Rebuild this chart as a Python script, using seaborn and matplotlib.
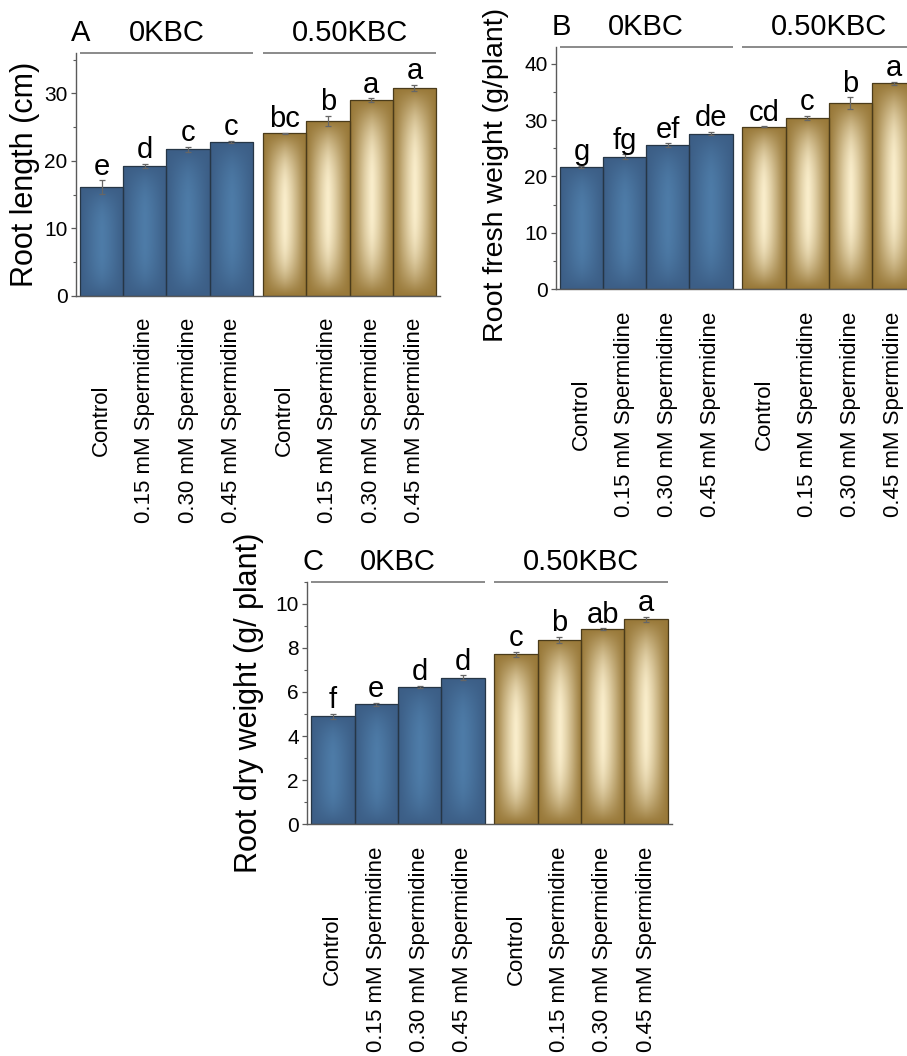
import numpy as np
import pandas as pd
import matplotlib
matplotlib.use("Agg")
import matplotlib.pyplot as plt
from matplotlib.ticker import MultipleLocator
import seaborn as sns

# ---------------- data ----------------
treatments = ["Control", "0.15 mM Spermidine", "0.30 mM Spermidine", "0.45 mM Spermidine"]
groups = ["0KBC", "0.50KBC"]

root_length = [16.1, 19.3, 21.7, 22.8, 24.1, 25.9, 29.0, 30.8]
root_length_se = [1.0, 0.3, 0.4, 0.2, 0.1, 0.8, 0.3, 0.5]
root_length_letters = ["e", "d", "c", "c", "bc", "b", "a", "a"]

fresh_weight = [21.7, 23.5, 25.6, 27.6, 28.8, 30.4, 33.0, 36.5]
fresh_weight_se = [0.15, 0.4, 0.3, 0.3, 0.1, 0.4, 1.0, 0.3]
fresh_weight_letters = ["g", "fg", "ef", "de", "cd", "c", "b", "a"]

dry_weight = [4.89, 5.44, 6.22, 6.65, 7.70, 8.35, 8.85, 9.29]
dry_weight_se = [0.12, 0.08, 0.05, 0.10, 0.12, 0.15, 0.03, 0.12]
dry_weight_letters = ["f", "e", "d", "d", "c", "b", "ab", "a"]

# ---------------- style ----------------
sns.set_theme(style="ticks")
plt.rcParams["font.family"] = ["Liberation Sans", "DejaVu Sans"]
plt.rcParams["text.color"] = "black"
plt.rcParams["axes.labelcolor"] = "black"
plt.rcParams["xtick.color"] = "black"
plt.rcParams["ytick.color"] = "black"

GAP = 0.23
DARK = {"0KBC": np.array([60, 94, 134]) / 255, "0.50KBC": np.array([152, 120, 56]) / 255}
LIGHT = {"0KBC": np.array([78, 124, 168]) / 255, "0.50KBC": np.array([250, 238, 204]) / 255}
EDGE = {"0KBC": "#263646", "0.50KBC": "#4a3b1a"}
PAL = {g: tuple(DARK[g]) for g in groups}
AXC = "#5a5a5a"


def gradient(group):
    nx, ny = 80, 240
    u = np.linspace(-1, 1, nx)
    v = np.linspace(-1, 1, ny)
    U, V = np.meshgrid(u, v)
    th = 1 - np.abs(U) ** 1.3
    tv = 1 - np.abs(V) ** 3.0
    t = np.clip(th * tv, 0, 1) ** 1.1
    d, l = DARK[group], LIGHT[group]
    return d + (l - d) * t[..., None]


def panel(fig, rect, values, errs, letters, ylabel, ylim, major, minor,
          panel_letter, ylabel_x, ylabel_size=22, ylabel_y=0.5):
    ax = fig.add_axes(rect)
    n = len(values)
    grp = [groups[i // len(treatments)] for i in range(n)]
    pos = np.arange(n) + GAP * (np.arange(n) // len(treatments))
    df = pd.DataFrame({"pos": pos, "value": values, "group": grp,
                       "treatment": treatments * len(groups)})
    sns.barplot(data=df, x="pos", y="value", hue="group", palette=PAL,
                native_scale=True, width=1.0, dodge=False, legend=False,
                errorbar=None, linewidth=0.9, edgecolor="#2a2a2a", ax=ax)

    # gradient fill inside each bar
    for p in list(ax.patches):
        bx, by = p.get_x(), p.get_y()
        bw, bh = p.get_width(), p.get_height()
        if bh <= 0:
            continue
        idx = int(np.argmin(np.abs(pos - (bx + bw / 2))))
        g = grp[idx]
        im = ax.imshow(gradient(g), extent=(bx, bx + bw, by, by + bh),
                       origin="lower", aspect="auto", interpolation="bilinear",
                       zorder=1.5)
        im.set_clip_path(p)
        p.set_facecolor("none")
        p.set_edgecolor(EDGE[g])
        p.set_zorder(2)

    ax.errorbar(pos, values, yerr=errs, fmt="none", ecolor="#666666",
                elinewidth=0.9, capsize=2.2, capthick=0.9, zorder=3)

    for x, v, e, t in zip(pos, values, errs, letters):
        ax.annotate(t, (x, v + e), xytext=(0, 4), textcoords="offset points",
                    ha="center", va="baseline", fontsize=21, color="black")

    ax.set_xlim(pos[0] - 0.5 - 0.09, pos[-1] + 0.5 + 0.09)
    ax.set_ylim(*ylim)
    ax.yaxis.set_major_locator(MultipleLocator(major))
    ax.yaxis.set_minor_locator(MultipleLocator(minor))

    ax.set_xticks(pos)
    ax.set_xticklabels(df["treatment"], rotation=90, va="center", ha="center",
                       fontsize=16, color="black")
    ax.tick_params(axis="x", length=0, pad=90)
    ax.tick_params(axis="y", which="major", length=3.6, width=0.9, color=AXC,
                   labelsize=15, labelcolor="black", pad=2.5)
    ax.tick_params(axis="y", which="minor", length=2.0, width=0.8, color=AXC)

    ax.set_xlabel("")
    ax.set_ylabel(ylabel, fontsize=ylabel_size, color="black")
    ax.yaxis.set_label_coords(ylabel_x, ylabel_y)

    for s in ["top", "right"]:
        ax.spines[s].set_visible(False)
    for s in ["left", "bottom"]:
        ax.spines[s].set_color(AXC)
        ax.spines[s].set_linewidth(1.0)

    # group brackets and labels
    top = ylim[1]
    for gi, g in enumerate(groups):
        gpos = pos[gi * len(treatments):(gi + 1) * len(treatments)]
        x0, x1 = gpos[0] - 0.5, gpos[-1] + 0.5
        ax.plot([x0, x1], [top, top], color="#777777", lw=1.2, clip_on=False,
                solid_capstyle="butt")
        ax.annotate(g, ((x0 + x1) / 2, top), xytext=(0, 8.5),
                    textcoords="offset points", ha="center", va="baseline",
                    fontsize=21, color="black", annotation_clip=False)
    ax.annotate(panel_letter, (0, 1), xycoords="axes fraction",
                xytext=(-3.5, 8.5), textcoords="offset points", ha="left",
                va="baseline", fontsize=21, color="black")
    return ax


W, H = 907, 1056
fig = plt.figure(figsize=(W / 100, H / 100), dpi=100)


def rect(left, right, y0, ytop):
    return [left / W, 1 - y0 / H, (right - left) / W, (y0 - ytop) / H]


panel(fig, rect(76, 440, 295.7, 53.0), root_length, root_length_se,
      root_length_letters, "Root length (cm)", (0, 36), 10, 5, "A", -0.10)
panel(fig, rect(556, 919, 289.3, 46.7), fresh_weight, fresh_weight_se,
      fresh_weight_letters, "Root fresh weight (g/plant)", (0, 43), 10, 5, "B",
      -0.13, ylabel_size=20.5, ylabel_y=0.47)
panel(fig, rect(307.3, 671.7, 824.3, 581.7), dry_weight, dry_weight_se,
      dry_weight_letters, "Root dry weight (g/ plant)", (0, 11), 2, 1, "C",
      -0.118)

fig.savefig("out.png", dpi=100)
